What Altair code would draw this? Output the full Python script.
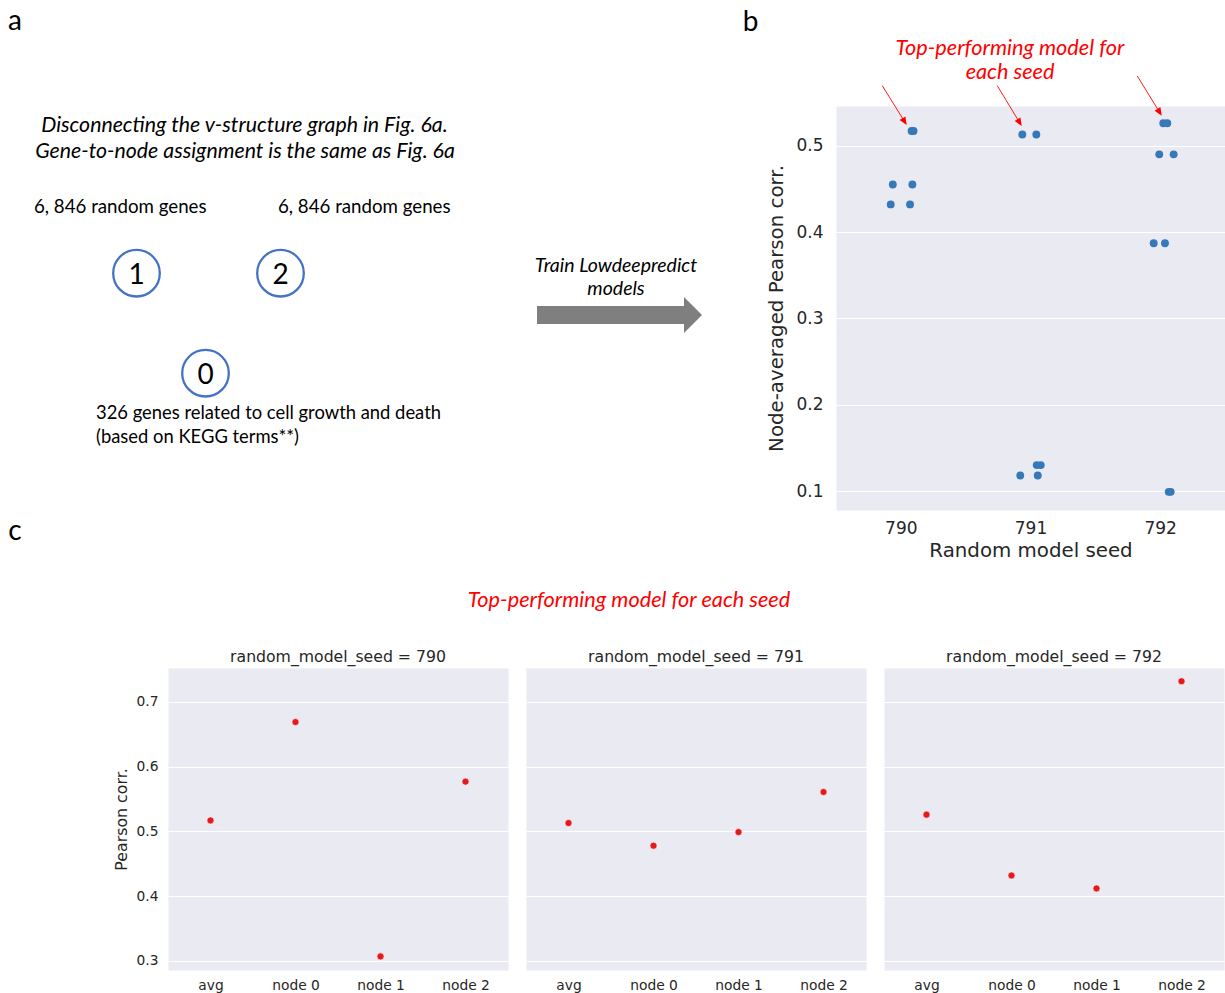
import math

import altair as alt
import pandas as pd

# ---------------------------------------------------------------------------
# Panel b: node-averaged Pearson correlation of every trained model per seed
# ---------------------------------------------------------------------------
seed_values = [790, 790, 790, 790, 790, 790,
               791, 791, 791, 791, 791, 791,
               792, 792, 792, 792, 792, 792, 792, 792]
pearson_values = [0.517, 0.517, 0.455, 0.455, 0.432, 0.432,
                  0.513, 0.513, 0.130, 0.130, 0.118, 0.118,
                  0.526, 0.526, 0.490, 0.490, 0.387, 0.387, 0.099, 0.099]
# horizontal strip-plot jitter (in seed units)
jitter_values = [0.083, 0.098, -0.062, 0.089, -0.078, 0.071,
                 -0.063, 0.045, 0.048, 0.079, -0.079, 0.056,
                 0.024, 0.055, -0.007, 0.104, -0.050, 0.037, 0.066, 0.081]
seed_ticks = [790, 791, 792]
b_ticks = [0.1, 0.2, 0.3, 0.4, 0.5]

# ---------------------------------------------------------------------------
# Panel c: top-performing model for each seed
# ---------------------------------------------------------------------------
facet_seeds = [790, 791, 792]
metric_names = ["avg", "node 0", "node 1", "node 2"]
best_790 = [0.517, 0.669, 0.307, 0.577]
best_791 = [0.513, 0.478, 0.499, 0.561]
best_792 = [0.526, 0.432, 0.412, 0.732]
c_ticks = [0.3, 0.4, 0.5, 0.6, 0.7]

TEXT = "#262626"
POINT_BLUE = "#3778B9"
POINT_RED = "#E41A1C"
NOTE_RED = "#FF0000"
RING_BLUE = "#4472C4"
ARROW_GRAY = "#7F7F7F"
SANS = "DejaVu Sans"
NOTE_FONT = "Lato"
CLEAR_VIEW = alt.ViewBackground(fillOpacity=0, strokeOpacity=0)

ONE = pd.DataFrame({"k": [0]})


def note(text, x, y, size, align="left", style="normal", color="#000000"):
    return alt.Chart(ONE).mark_text(
        text=text, align=align, baseline="alphabetic", fontSize=size,
        fontStyle=style, font=NOTE_FONT, color=color,
    ).encode(x=alt.value(x), y=alt.value(y))


def anchor(x0, y0, x1, y1):
    # invisible rule that fixes the extent of a panel in the layout
    return alt.Chart(ONE).mark_rule(opacity=0, strokeWidth=1).encode(
        x=alt.value(x0), y=alt.value(y0), x2=alt.value(x1), y2=alt.value(y1))


def pointer(x0, y0, x1, y1):
    dx, dy = x1 - x0, y1 - y0
    length = math.hypot(dx, dy)
    ex, ey = x1 - dx / length * 5, y1 - dy / length * 5
    line = alt.Chart(ONE).mark_rule(color=NOTE_RED, strokeWidth=0.9).encode(
        x=alt.value(x0), y=alt.value(y0), x2=alt.value(ex), y2=alt.value(ey))
    angle = (360 - math.degrees(math.atan2(dx, dy))) % 360
    head = alt.Chart(ONE).mark_point(
        shape="M0,0L-0.85,-2L0.85,-2Z", size=64, filled=True, color=NOTE_RED,
        opacity=1, strokeOpacity=0, angle=angle,
    ).encode(x=alt.value(x1), y=alt.value(y1))
    return [line, head]


def ring(x, y):
    return alt.Chart(ONE).mark_point(
        shape="circle", size=2172, filled=False, color=RING_BLUE,
        strokeWidth=2.3, opacity=1,
    ).encode(x=alt.value(x), y=alt.value(y))


# ---------------------------------------------------------------------------
# Panel a: schematic of the disconnected graph (pixel-placed annotations)
# ---------------------------------------------------------------------------
a_layers = [
    anchor(-168, -106, -168, 460),
    note("a", -153, -76, 28, align="center"),
    note("Disconnecting the v-structure graph in Fig. 6a.", 76.5, 25.7, 21.3,
         align="center", style="italic"),
    note("Gene-to-node assignment is the same as Fig. 6a", 77, 52.3, 21.3,
         align="center", style="italic"),
    note("6, 846  random genes", -134, 106.7, 18.7),
    note("6, 846  random genes", 110, 106.7, 18.7),
    ring(-31.5, 167.2), ring(112.5, 167.2), ring(37.5, 267.2),
    note("1", -31.5, 178, 28, align="center"),
    note("2", 112.5, 178, 28, align="center"),
    note("0", 37.5, 277.5, 28, align="center"),
    note("326 genes related to cell growth and death", -72, 313.3, 18.4),
    note("(based on KEGG terms**)", -72, 336.7, 18.4),
    note("Train Lowdeepredict", 448, 165.7, 19.5, align="center", style="italic"),
    note("models", 448, 189, 19.5, align="center", style="italic"),
    alt.Chart(ONE).mark_point(
        shape="M-82.5,-9L64.5,-9L64.5,-18L82.5,0L64.5,18L64.5,9L-82.5,9Z",
        size=4, filled=True, color=ARROW_GRAY, opacity=1, strokeOpacity=0,
    ).encode(x=alt.value(451.5), y=alt.value(209)),
    note("c", -153, 434, 28, align="center"),
]
panel_a = alt.layer(*a_layers).properties(width=568, height=460, view=CLEAR_VIEW)

# ---------------------------------------------------------------------------
# Panel b chart
# ---------------------------------------------------------------------------
df_b = pd.DataFrame({"seed": seed_values, "jitter": jitter_values,
                     "pearson": pearson_values})

points_b = alt.Chart(df_b).transform_calculate(
    xpos="datum.seed + datum.jitter"
).mark_circle(size=62, color=POINT_BLUE, opacity=1).encode(
    x=alt.X("xpos:Q",
            scale=alt.Scale(domain=[789.5, 792.5], nice=False, zero=False),
            axis=alt.Axis(values=seed_ticks, format="d", grid=False, ticks=False,
                          domain=False, labelFontSize=17, labelPadding=10,
                          title="Random model seed", titleFontSize=19.8,
                          titlePadding=4)),
    y=alt.Y("pearson:Q",
            scale=alt.Scale(domain=[0.078, 0.546], nice=False, zero=False),
            axis=alt.Axis(values=b_ticks, format=".1f", ticks=False, domain=False,
                          labelFontSize=17, labelPadding=13,
                          title="Node-averaged Pearson corr.", titleFontSize=19.8,
                          titlePadding=9)),
)

b_layers = [
    anchor(-100, 0, -100, 10),
    note("b", -85.5, -75, 28, align="center"),
    note("Top-performing model for", 174, -51, 21.7, align="center",
         style="italic", color=NOTE_RED),
    note("each seed", 174, -26.7, 21.7, align="center", style="italic",
         color=NOTE_RED),
]
b_layers += pointer(46.3, -20.3, 70.7, 19)
b_layers += pointer(161.3, -20.3, 185.7, 20)
b_layers += pointer(301.3, -30, 325.7, 9.7)

panel_b = alt.layer(points_b, *b_layers).properties(width=389, height=404)

# ---------------------------------------------------------------------------
# Caption strip above panel c
# ---------------------------------------------------------------------------
caption_c = alt.layer(
    note("Top-performing model for each seed", 461, 41, 21.7, align="center",
         style="italic", color=NOTE_RED),
).properties(width=640, height=83, view=CLEAR_VIEW)

# ---------------------------------------------------------------------------
# Panel c chart (one facet per seed)
# ---------------------------------------------------------------------------
c_rows = []
for seed, vals in zip(facet_seeds, [best_790, best_791, best_792]):
    for metric, val in zip(metric_names, vals):
        c_rows.append({"seed": seed, "metric": metric, "pearson": val})
df_c = pd.DataFrame(c_rows)

points_c = alt.Chart(df_c).mark_circle(
    size=50, color=POINT_RED, opacity=1, stroke="white", strokeWidth=0.6
).encode(
    x=alt.X("metric:N", sort=metric_names,
            scale=alt.Scale(type="point", padding=0.5),
            axis=alt.Axis(title=None, grid=False, ticks=False, domain=False,
                          labelAngle=0, labelFontSize=13.8, labelPadding=8.5)),
    y=alt.Y("pearson:Q",
            scale=alt.Scale(domain=[0.286, 0.7525], nice=False, zero=False),
            axis=alt.Axis(values=c_ticks, format=".1f", ticks=False, domain=False,
                          labelFontSize=13.8, labelPadding=10,
                          title="Pearson corr.", titleFontSize=15.8,
                          titlePadding=7)),
).properties(width=340, height=302)

panel_c = points_c.facet(
    column=alt.Column("seed:N", header=alt.Header(
        title=None,
        labelExpr="'random_model_seed = ' + datum.value",
        labelFontSize=15.7, labelColor=TEXT, labelFont=SANS, labelPadding=2,
    )),
    spacing=18,
)

top_row = alt.hconcat(panel_a, panel_b, spacing=0)

chart = alt.ConcatChart(
    concat=[top_row, caption_c, panel_c], columns=1, spacing=0, align="none",
    padding=0,
).configure(
    font=SANS
).configure_view(
    fill="#EAEAF2", strokeOpacity=0
).configure_axis(
    labelColor=TEXT, titleColor=TEXT, labelFont=SANS, titleFont=SANS,
    titleFontWeight="normal", gridColor="white", gridWidth=1.2,
)

chart.save("out.html", embed_options={"renderer": "svg", "actions": False})
